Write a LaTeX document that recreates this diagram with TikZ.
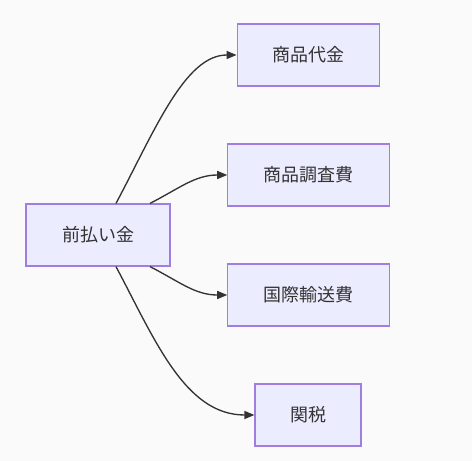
\documentclass[tikz,border=0pt]{standalone}
\usepackage{fontspec}
\setmainfont{Noto Sans CJK JP}
\usetikzlibrary{arrows.meta}
\definecolor{boxfill}{RGB}{236,236,255}
\definecolor{boxline}{RGB}{160,125,225}
\definecolor{inkgray}{RGB}{51,51,51}
\definecolor{paper}{RGB}{250,250,250}
\begin{document}
\begin{tikzpicture}[x=0.75pt,y=-0.75pt,
    itembox/.style={draw=boxline,fill=boxfill,line width=0.9pt,minimum height=46.5pt,
        inner sep=0pt,text=inkgray,font=\fontsize{13.5}{16}\selectfont},
    flow/.style={draw=inkgray,line width=1pt,-{Triangle[length=7.5pt,width=6pt]}}]
    \fill[paper] (0,0) rectangle (472,461);
    \node[itembox,minimum width=108pt] (prepay) at (98,235) {前払い金};
    \node[itembox,minimum width=107pt] (goods) at (308.5,55) {商品代金};
    \node[itembox,minimum width=121pt] (survey) at (308.5,175) {商品調査費};
    \node[itembox,minimum width=121pt] (shipping) at (308.5,295) {国際輸送費};
    \node[itembox,minimum width=79.5pt] (duty) at (308,415) {関税};
    \draw[flow] ([xshift=13.5pt]prepay.north) .. controls (155,130) and (185,55) .. (goods.west);
    \draw[flow] ([xshift=39pt]prepay.north) .. controls (180,188) and (195,175) .. (survey.west);
    \draw[flow] ([xshift=39pt]prepay.south) .. controls (180,282) and (195,295) .. (shipping.west);
    \draw[flow] ([xshift=13.5pt]prepay.south) .. controls (155,340) and (185,415) .. (duty.west);
\end{tikzpicture}
\end{document}
